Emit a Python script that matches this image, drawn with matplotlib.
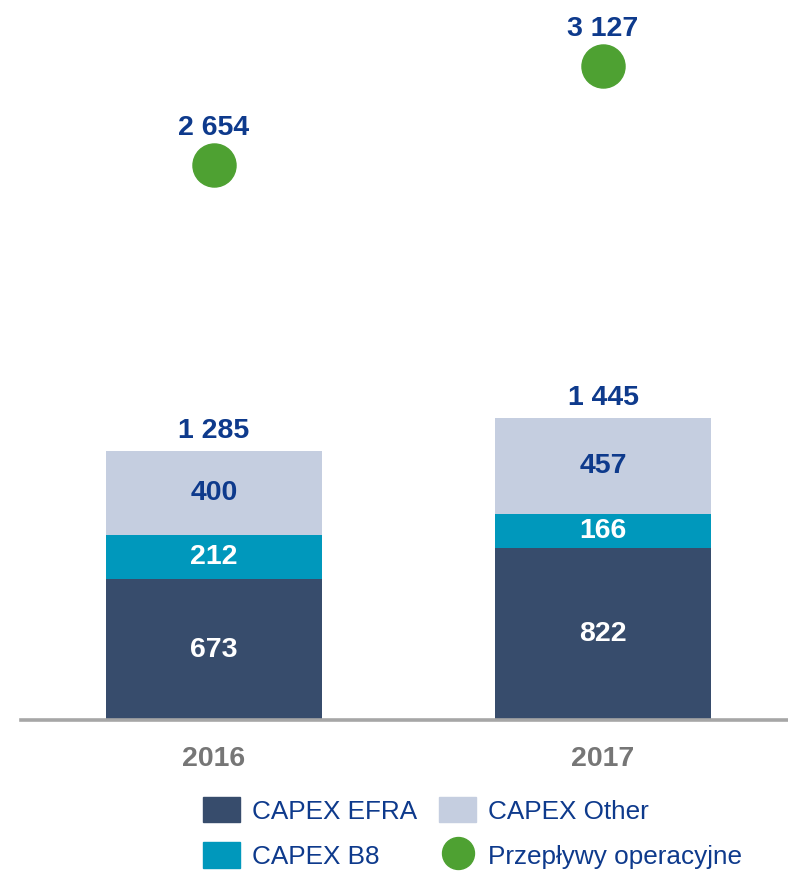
import matplotlib.pyplot as plt
from matplotlib.lines import Line2D
from matplotlib.patches import Patch

plt.rcParams['font.family'] = ['Liberation Sans', 'DejaVu Sans']

# Data
years = ['2016', '2017']
capex_efra = [673, 822]
capex_b8 = [212, 166]
capex_other = [400, 457]
capex_total = [1285, 1445]
przeplywy = [2654, 3127]

navy = '#374C6C'
teal = '#0098BC'
light = '#C5CEE0'
green = '#4EA132'
text_navy = '#0E3A8C'
gray = '#767676'

W, H = 788, 871
fig = plt.figure(figsize=(W / 100, H / 100), dpi=100)
# axes: left edge at 21px, baseline at 720px from top
ax = fig.add_axes([21 / W, (H - 720) / H, 1 - 21 / W, 720 / H])

x = [0, 1]
width = 0.555

b1 = ax.bar(x, capex_efra, width, color=navy)
b2 = ax.bar(x, capex_b8, width, bottom=capex_efra, color=teal)
bottom2 = [a + b for a, b in zip(capex_efra, capex_b8)]
b3 = ax.bar(x, capex_other, width, bottom=bottom2, color=light)

ax.bar_label(b1, labels=[str(v) for v in capex_efra], label_type='center',
             color='white', fontsize=20.5, fontweight='bold')
ax.bar_label(b2, labels=[str(v) for v in capex_b8], label_type='center',
             color='white', fontsize=20.5, fontweight='bold')
ax.bar_label(b3, labels=[str(v) for v in capex_other], label_type='center',
             color=text_navy, fontsize=20.5, fontweight='bold')

def fmt(v):
    return f'{v:,}'.replace(',', ' ')

for xi, tot in zip(x, capex_total):
    ax.annotate(fmt(tot), (xi, tot), xytext=(0, 5), textcoords='offset points',
                ha='center', va='bottom', color=text_navy, fontsize=20.5,
                fontweight='bold')

ax.plot(x, przeplywy, linestyle='none', marker='o', markersize=31,
        color=green, clip_on=False)
for xi, v in zip(x, przeplywy):
    ax.annotate(fmt(v), (xi, v), xytext=(0, 17.5), textcoords='offset points',
                ha='center', va='bottom', color=text_navy, fontsize=20.5,
                fontweight='bold')

ax.set_xlim(-(214 - 21) / 389, (W - 214) / 389)
ax.set_ylim(0, 720 / 0.209)

for s in ['top', 'right', 'left']:
    ax.spines[s].set_visible(False)
ax.spines['bottom'].set_color('#A6A6A6')
ax.spines['bottom'].set_linewidth(2.6)
ax.set_yticks([])
ax.set_xticks(x)
ax.set_xticklabels(years, fontsize=20.5, fontweight='bold', color=gray)
ax.tick_params(axis='x', length=0, pad=19)

handles = [
    Patch(color=navy, label='CAPEX EFRA'),
    Patch(color=teal, label='CAPEX B8'),
    Patch(color=light, label='CAPEX Other'),
    Line2D([], [], linestyle='none', marker='o', markersize=23, color=green,
           label='Przepływy operacyjne'),
]
fig.legend(handles=handles, ncol=2, loc='upper left',
           bbox_to_anchor=(203 / W, 1 - 797 / H), frameon=False,
           fontsize=18.8, labelcolor=text_navy, borderpad=0,
           handlelength=1.42, handleheight=1.12, handletextpad=0.46,
           columnspacing=0.85, labelspacing=0.72, borderaxespad=0)

fig.savefig('out.png', dpi=100)
